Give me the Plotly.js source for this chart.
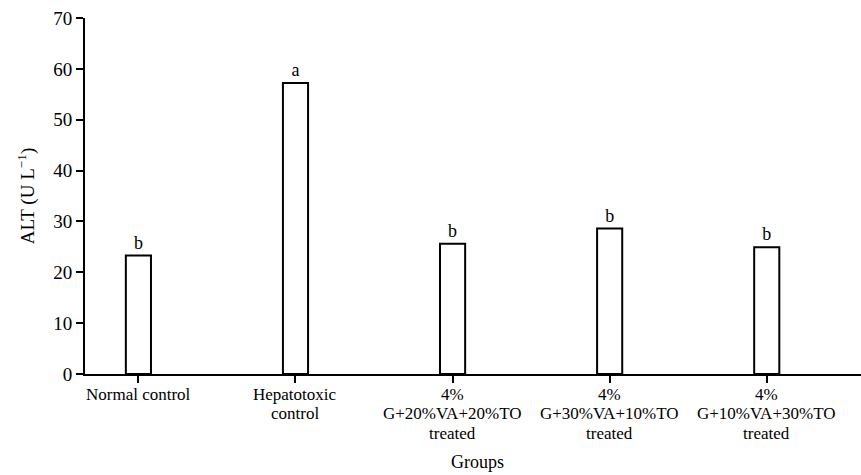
<!DOCTYPE html>
<html>
<head>
<meta charset="utf-8">
<script src="https://cdn.plot.ly/plotly-3.0.1.min.js"></script>
<style>html,body{margin:0;padding:0;background:#fff;}#chart{width:861px;height:475px;}</style>
</head>
<body>
<div id="chart"></div>
<script>
const categories = ["Normal control", "Hepatotoxic control", "4% G+20%VA+20%TO treated", "4% G+30%VA+10%TO treated", "4% G+10%VA+30%TO treated"];
const tickLines = [
  ["Normal control"],
  ["Hepatotoxic", "control"],
  ["4%", "G+20%VA+20%TO", "treated"],
  ["4%", "G+30%VA+10%TO", "treated"],
  ["4%", "G+10%VA+30%TO", "treated"]
];
const altValues = [23.3, 57.2, 25.6, 28.6, 24.9];
const sigLetters = ["b", "a", "b", "b", "b"];

const font = "Liberation Serif, Times New Roman, serif";
const xIdx = categories.map((c, i) => i);

const annotations = [];
tickLines.forEach((lines, i) => {
  lines.forEach((ln, k) => {
    annotations.push({
      x: i, xref: "x", y: 0, yref: "paper",
      yanchor: "middle", xanchor: "center",
      yshift: -(20 + 19.5 * k),
      borderpad: 0,
      text: ln, showarrow: false,
      font: {family: font, size: 17, color: "#000"}
    });
  });
});
annotations.push({
  x: 0.506, xref: "paper", y: 0, yref: "paper",
  yanchor: "middle", xanchor: "center", yshift: -88,
  borderpad: 0,
  text: "Groups", showarrow: false,
  font: {family: font, size: 18, color: "#000"}
});

Plotly.newPlot("chart", [{
  type: "bar",
  x: xIdx,
  y: altValues,
  width: 0.16,
  text: sigLetters,
  textposition: "outside",
  textfont: {family: font, size: 18, color: "#000"},
  cliponaxis: false,
  marker: {color: "#fff", line: {color: "#000", width: 2}},
  hoverinfo: "none"
}], {
  width: 861, height: 475,
  margin: {l: 85, r: 0, t: 18, b: 101},
  paper_bgcolor: "#fff", plot_bgcolor: "#fff",
  showlegend: false,
  font: {family: font, size: 18, color: "#000"},
  annotations: annotations,
  xaxis: {
    range: [-0.34, 4.6],
    tickmode: "array", tickvals: xIdx, ticktext: categories,
    showticklabels: false,
    showgrid: false, zeroline: false,
    showline: true, linecolor: "#000", linewidth: 2,
    ticks: "outside", ticklen: 7, tickwidth: 2, tickcolor: "#000"
  },
  yaxis: {
    range: [0, 70], dtick: 10,
    showgrid: false, zeroline: false,
    showline: true, linecolor: "#000", linewidth: 2,
    ticks: "outside", ticklen: 7, tickwidth: 2, tickcolor: "#000",
    tickfont: {family: font, size: 19, color: "#000"},
    title: {text: "ALT (U L<sup>−1</sup>)", font: {family: font, size: 19, color: "#000"}, standoff: 14}
  }
}, {displayModeBar: false, staticPlot: true});
</script>
</body>
</html>
